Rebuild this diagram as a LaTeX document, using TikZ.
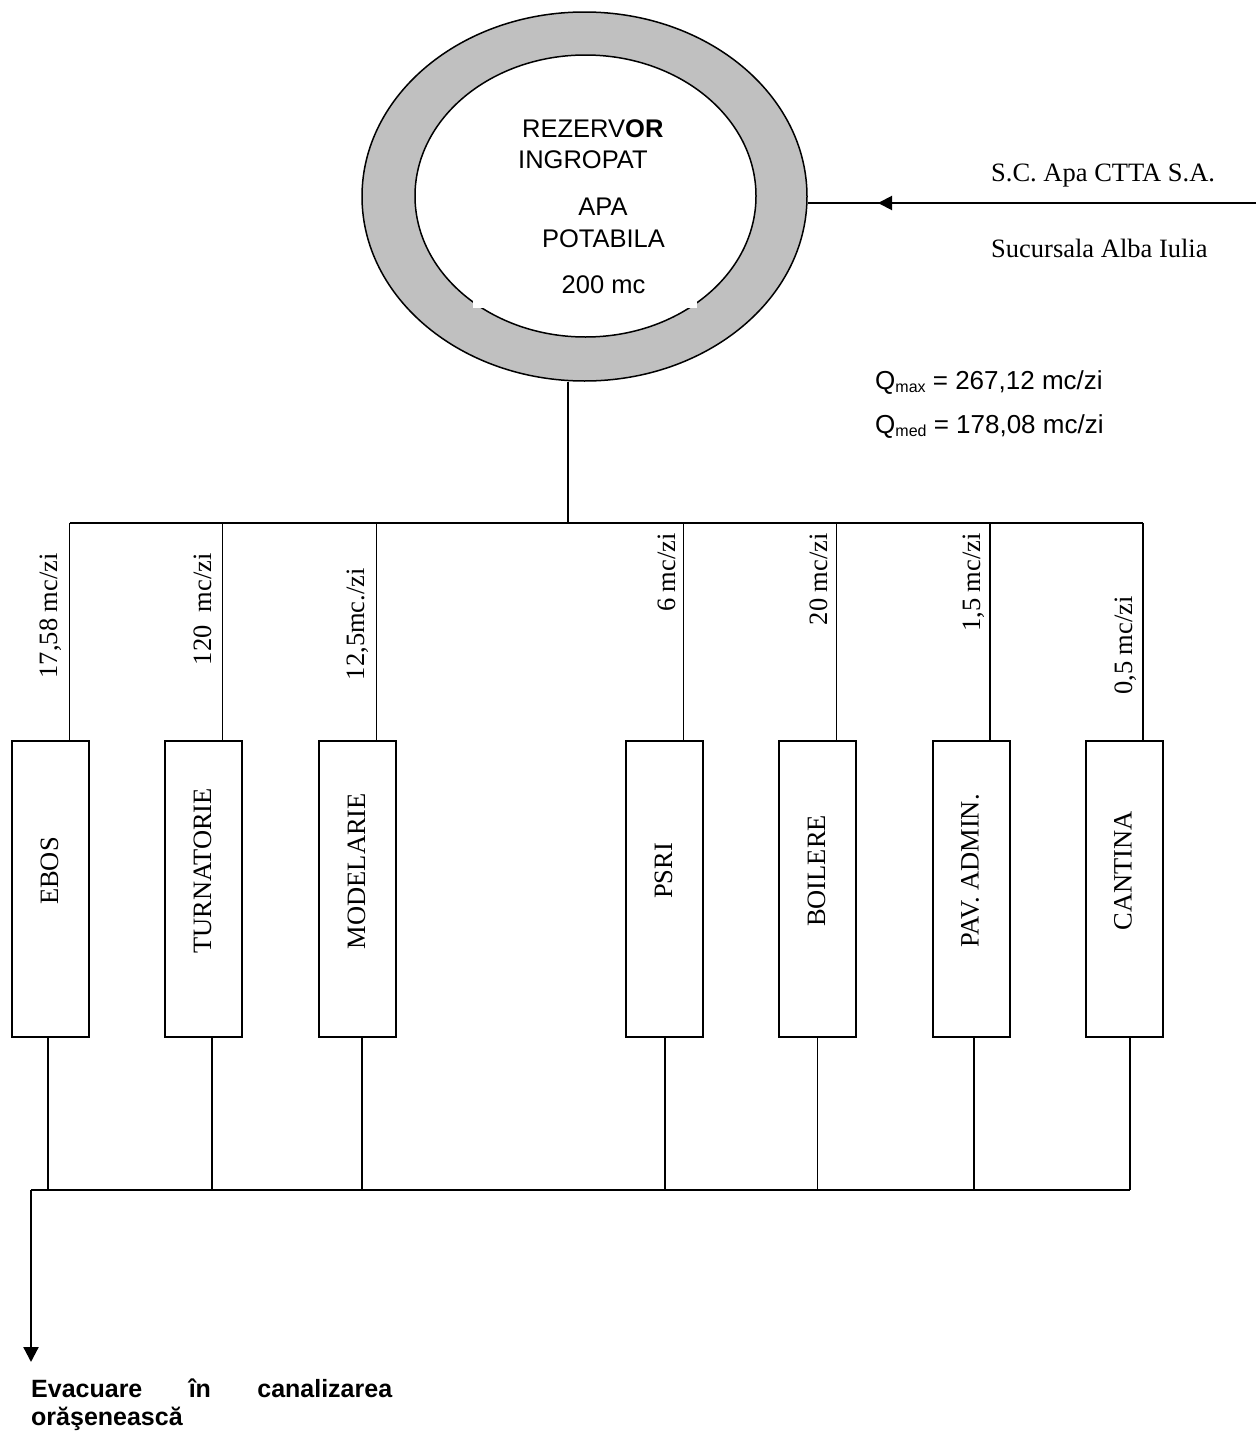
\documentclass[tikz,border=0pt]{standalone}
\usepackage{fontspec}
\setmainfont{Liberation Serif}
\newfontfamily\arialf{Liberation Sans}
\usetikzlibrary{shapes.geometric,arrows.meta}
\definecolor{ringgray}{RGB}{192,192,192}
\begin{document}
\begin{tikzpicture}[x=1pt,y=-1pt,
  boxst/.style={draw,line width=2pt,minimum width=77pt,minimum height=296pt,inner sep=0pt},
  serif/.style={font=\fontsize{26.5}{30}\selectfont,inner sep=0pt},
  sans/.style={font=\arialf\fontsize{25.5}{30}\selectfont,inner sep=0pt},
  qsans/.style={font=\arialf\fontsize{26}{30}\selectfont,inner sep=0pt},
  boldsans/.style={font=\arialf\bfseries\fontsize{25}{28}\selectfont,inner sep=0pt},
  rimline/.style={line width=1.5pt},
  pipe/.style={line width=1.6pt},
  drain/.style={line width=1.3pt},
  bus/.style={line width=2.2pt}]
\useasboundingbox (0,0) rectangle (1256,1432);
\fill[white] (0,0) rectangle (1256,1432);

% reservoir
\node[draw,ellipse,rimline,fill=ringgray,minimum width=445pt,minimum height=369pt,inner sep=0pt] (outer) at (584.5,196.5) {};
\node[draw,ellipse,rimline,fill=white,minimum width=341pt,minimum height=282pt,inner sep=0pt] (inner) at (585.5,196) {};
\fill[white] (473,250) rectangle (697,308);
\node[sans,anchor=base west] (t1) at (522,137) {REZERV\textbf{OR}};
\node[sans,anchor=base west] (t2) at (518,168) {INGROPAT};
\node[sans,anchor=base] (t3) at (603,215) {APA};
\node[sans,anchor=base] (t4) at (603.5,247) {POTABILA};
\node[sans,anchor=base] (t5) at (603.5,293) {200 mc};

% supply
\coordinate (src) at (1256,203);
\coordinate (arrA) at (933,203);
\coordinate (arrB) at (878,203);
\draw[line width=1.3pt] (src) -- (outer.east |- src);
\draw[line width=2pt,-{Triangle[length=14pt,width=14pt]}] (arrA) -- (arrB);
\node[serif,anchor=base west] (sc1) at (991,181) {S.C. Apa CTTA S.A.};
\node[serif,anchor=base west] (sc2) at (991,257) {Sucursala Alba Iulia};

% flows
\node[qsans,anchor=base west] (q1) at (875,389) {Q{\fontsize{16}{16}\selectfont\raisebox{-3.5pt}{max}} = 267,12 mc/zi};
\node[qsans,anchor=base west] (q2) at (875,433) {Q{\fontsize{16}{16}\selectfont\raisebox{-3.5pt}{med}} = 178,08 mc/zi};

% boxes
\node[boxst] (ebos) at (50.5,889) {};
\node[boxst] (turn) at (203.5,889) {};
\node[boxst] (model) at (357.5,889) {};
\node[boxst] (psri) at (664.5,889) {};
\node[boxst] (boil) at (817.5,889) {};
\node[boxst] (pav) at (971,889) {};
\node[boxst] (cant) at (1124,889) {};

\foreach \b/\t in {ebos/EBOS,turn/TURNATORIE,model/MODELARIE,psri/PSRI,boil/BOILERE,pav/PAV. ADMIN.,cant/CANTINA}
  \node[serif,rotate=90] (\b-lab) at ([xshift=-1pt,yshift=18pt]\b.center) {\t};

% supply bus
\coordinate (bustop) at (0,523);
\draw[pipe] (outer.south -| 568,0) -- (568,523);
\foreach \b in {ebos,turn,model,psri,boil,pav,cant}
  \draw[pipe] ([xshift=19pt]\b.north) -- ([xshift=19pt]\b.north |- bustop);
\draw[bus] ([xshift=19pt]ebos.north |- bustop) -- ([xshift=19pt]cant.north |- bustop);

% flow labels
\node[serif,rotate=90,anchor=base east] (f1) at (57,553) {17,58 mc/zi};
\node[serif,rotate=90,anchor=base east] (f2) at (211,553) {120\ \ mc/zi};
\node[serif,rotate=90,anchor=base east] (f3) at (364,568) {12,5mc./zi};
\node[serif,rotate=90,anchor=base east] (f4) at (675,533) {6 mc/zi};
\node[serif,rotate=90,anchor=base east] (f5) at (827,533) {20 mc/zi};
\node[serif,rotate=90,anchor=base east] (f6) at (980,533) {1,5 mc/zi};
\node[serif,rotate=90,anchor=base east] (f7) at (1132,596) {0,5 mc/zi};

% drainage
\coordinate (busbot) at (0,1190);
\coordinate (outl) at (31,1190);
\coordinate (outend) at (31,1362);
\foreach \b/\s in {ebos/-2.5,turn/8.5,model/4.5,psri/0.5,boil/0,pav/3,cant/6}
  \draw[drain] ([xshift=\s pt]\b.south) -- ([xshift=\s pt]\b.south |- busbot);
\draw[bus] (outl) -- ([xshift=6pt]cant.south |- busbot);
\draw[bus,-{Triangle[length=15pt,width=15pt]}] (outl) -- (outend);
\node[boldsans,anchor=base west] (ev1) at (31,1397) {\makebox[361pt][s]{Evacuare în canalizarea}};
\node[boldsans,anchor=base west] (ev2) at (31,1425) {orăşenească};
\end{tikzpicture}
\end{document}
